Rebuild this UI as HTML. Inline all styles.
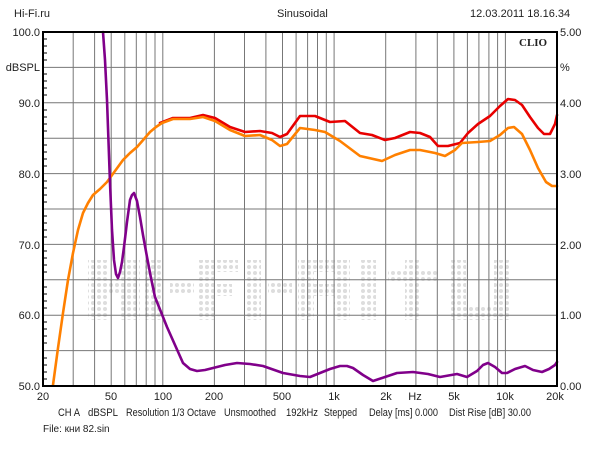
<!DOCTYPE html>
<html><head><meta charset="utf-8"><style>
body{margin:0;background:#fff;width:600px;height:450px;overflow:hidden}
svg text{font-family:"Liberation Sans",sans-serif;font-size:11px;fill:#222;white-space:pre}
</style></head><body>
<svg width="600" height="450" xmlns="http://www.w3.org/2000/svg">
<defs>
<pattern id="dots" width="6" height="6" patternUnits="userSpaceOnUse"><circle cx="3" cy="3" r="2" fill="#ddd"/></pattern>
</defs>
<g fill="url(#dots)">
<rect x="88" y="260" width="20" height="60"/><rect x="108" y="280" width="30" height="14"/><rect x="120" y="260" width="20" height="60"/>
<rect x="145" y="260" width="16" height="60"/><rect x="170" y="282" width="24" height="12"/>
<rect x="198" y="260" width="40" height="12"/><rect x="198" y="260" width="16" height="60"/><rect x="198" y="284" width="34" height="12"/>
<rect x="245" y="260" width="16" height="60"/><rect x="268" y="282" width="24" height="12"/>
<rect x="298" y="260" width="52" height="12"/><rect x="298" y="260" width="16" height="60"/><rect x="334" y="260" width="16" height="60"/><rect x="298" y="284" width="52" height="12"/>
<rect x="360" y="260" width="16" height="60"/><rect x="388" y="270" width="50" height="12"/><rect x="405" y="260" width="16" height="60"/>
<rect x="450" y="260" width="16" height="60"/><rect x="450" y="306" width="60" height="14"/><rect x="494" y="260" width="16" height="60"/>
</g>
<g stroke="#777" stroke-width="1">
<line x1="43" y1="67.4" x2="557" y2="67.4"/><line x1="43" y1="102.8" x2="557" y2="102.8"/><line x1="43" y1="138.2" x2="557" y2="138.2"/><line x1="43" y1="173.6" x2="557" y2="173.6"/><line x1="43" y1="209" x2="557" y2="209"/><line x1="43" y1="244.4" x2="557" y2="244.4"/><line x1="43" y1="279.8" x2="557" y2="279.8"/><line x1="43" y1="315.2" x2="557" y2="315.2"/><line x1="43" y1="350.6" x2="557" y2="350.6"/>
<line x1="73.2" y1="32" x2="73.2" y2="386"/><line x1="94.6" y1="32" x2="94.6" y2="386"/><line x1="111.2" y1="32" x2="111.2" y2="386"/><line x1="124.8" y1="32" x2="124.8" y2="386"/><line x1="136.3" y1="32" x2="136.3" y2="386"/><line x1="146.2" y1="32" x2="146.2" y2="386"/><line x1="155" y1="32" x2="155" y2="386"/><line x1="162.8" y1="32" x2="162.8" y2="386"/>
<line x1="214.4" y1="32" x2="214.4" y2="386"/><line x1="244.5" y1="32" x2="244.5" y2="386"/><line x1="265.9" y1="32" x2="265.9" y2="386"/><line x1="282.5" y1="32" x2="282.5" y2="386"/><line x1="296.1" y1="32" x2="296.1" y2="386"/><line x1="307.6" y1="32" x2="307.6" y2="386"/><line x1="317.5" y1="32" x2="317.5" y2="386"/><line x1="326.3" y1="32" x2="326.3" y2="386"/><line x1="334.1" y1="32" x2="334.1" y2="386"/>
<line x1="385.7" y1="32" x2="385.7" y2="386"/><line x1="415.9" y1="32" x2="415.9" y2="386"/><line x1="437.3" y1="32" x2="437.3" y2="386"/><line x1="453.9" y1="32" x2="453.9" y2="386"/><line x1="467.4" y1="32" x2="467.4" y2="386"/><line x1="478.9" y1="32" x2="478.9" y2="386"/><line x1="488.9" y1="32" x2="488.9" y2="386"/><line x1="497.6" y1="32" x2="497.6" y2="386"/><line x1="505.4" y1="32" x2="505.4" y2="386"/>
</g>
<g fill="none" stroke-width="2.6" stroke-linejoin="round" stroke-linecap="round">
<polyline stroke="#e80000" points="160,123 173,118 190,118 203,115 215,118 230,127 245,132 260,131 272,133 280,137 287,134 300,116 315,116 330,122 345,121 360,133 372,135 385,140 395,138 410,132 420,133 430,137 438,146 448,146 460,143 468,133 478,124 490,116 500,106 508,99 515,100 522,105 530,117 538,128 544,134 550,134 555,124 557,115"/>
<polyline stroke="#ff8000" points="53,385 58,348 63,313 68,280 73,253 78,230 83,213 88,203 93,195 100,189 107,182 115,171 123,160 130,153 137,147 144,139 150,132 156,127 162,123 173,119 190,119 203,117 215,121 230,130 245,136 260,135 272,140 280,146 287,144 300,128 315,130 325,132 340,141 360,156 382,161 395,155 410,150 420,150 435,153 445,156 455,150 462,143 478,142 490,141 500,135 508,128 514,127 522,134 530,150 538,168 546,182 552,186 557,186"/>
<polyline stroke="#80008a" points="103,32 105,60 107,100 110,183 112,230 114,260 116,274 118,278 120,272 122,262 124,247 127,222 130,200 132,195 134,193 137,201 140,217 143,235 147,257 151,278 155,297 161,312 167,327 175,345 183,363 190,369 197,371 205,370 213,368 225,365 237,363 250,364 263,366 283,373 300,376 310,377 320,373 330,369 340,366 347,366 353,368 363,375 373,381 385,377 397,373 413,372 428,374 440,377 457,374 467,377 477,371 483,365 488,363 495,367 502,373 507,373 515,369 525,366 533,370 542,372 549,369 555,365 557,362"/>
</g>
<g stroke="#000" stroke-width="1">
<line x1="44" y1="39" x2="47" y2="39"/><line x1="44" y1="46" x2="47" y2="46"/><line x1="44" y1="53" x2="47" y2="53"/><line x1="44" y1="60" x2="47" y2="60"/>
<line x1="44" y1="74" x2="47" y2="74"/><line x1="44" y1="81" x2="47" y2="81"/><line x1="44" y1="88" x2="47" y2="88"/><line x1="44" y1="95" x2="47" y2="95"/>
<line x1="44" y1="110" x2="47" y2="110"/><line x1="44" y1="117" x2="47" y2="117"/><line x1="44" y1="124" x2="47" y2="124"/><line x1="44" y1="131" x2="47" y2="131"/>
<line x1="44" y1="145" x2="47" y2="145"/><line x1="44" y1="152" x2="47" y2="152"/><line x1="44" y1="159" x2="47" y2="159"/><line x1="44" y1="166" x2="47" y2="166"/>
<line x1="44" y1="181" x2="47" y2="181"/><line x1="44" y1="188" x2="47" y2="188"/><line x1="44" y1="195" x2="47" y2="195"/><line x1="44" y1="202" x2="47" y2="202"/>
<line x1="44" y1="216" x2="47" y2="216"/><line x1="44" y1="223" x2="47" y2="223"/><line x1="44" y1="230" x2="47" y2="230"/><line x1="44" y1="237" x2="47" y2="237"/>
<line x1="44" y1="251" x2="47" y2="251"/><line x1="44" y1="258" x2="47" y2="258"/><line x1="44" y1="265" x2="47" y2="265"/><line x1="44" y1="272" x2="47" y2="272"/>
<line x1="44" y1="287" x2="47" y2="287"/><line x1="44" y1="294" x2="47" y2="294"/><line x1="44" y1="301" x2="47" y2="301"/><line x1="44" y1="308" x2="47" y2="308"/>
<line x1="44" y1="322" x2="47" y2="322"/><line x1="44" y1="329" x2="47" y2="329"/><line x1="44" y1="336" x2="47" y2="336"/><line x1="44" y1="343" x2="47" y2="343"/>
<line x1="44" y1="358" x2="47" y2="358"/><line x1="44" y1="365" x2="47" y2="365"/><line x1="44" y1="372" x2="47" y2="372"/><line x1="44" y1="379" x2="47" y2="379"/>
</g>
<rect x="43" y="32" width="514" height="354" fill="none" stroke="#000" stroke-width="2"/>
<text x="14" y="17">Hi-Fi.ru</text>
<text x="277" y="17">Sinusoidal</text>
<text x="470" y="17">12.03.2011 18.16.34</text>
<text x="519" y="46" style="font-family:'Liberation Serif',serif;font-weight:bold;font-size:11px">CLIO</text>
<g text-anchor="end">
<text x="40" y="36">100.0</text><text x="40" y="71">dBSPL</text><text x="40" y="107">90.0</text><text x="40" y="178">80.0</text><text x="40" y="249">70.0</text><text x="40" y="319">60.0</text><text x="40" y="390">50.0</text>
</g>
<text x="560" y="36">5.00</text><text x="560" y="71">%</text><text x="560" y="107">4.00</text><text x="560" y="178">3.00</text><text x="560" y="249">2.00</text><text x="560" y="319">1.00</text><text x="560" y="390">0.00</text>
<g text-anchor="middle">
<text x="43" y="400">20</text><text x="111" y="400">50</text><text x="163" y="400">100</text><text x="214" y="400">200</text><text x="282" y="400">500</text><text x="334" y="400">1k</text><text x="386" y="400">2k</text><text x="415" y="400">Hz</text><text x="454" y="400">5k</text><text x="505" y="400">10k</text><text x="555" y="400">20k</text>
</g>
<g>
<text x="58" y="416" textLength="22" lengthAdjust="spacingAndGlyphs">CH A</text>
<text x="88" y="416" textLength="30" lengthAdjust="spacingAndGlyphs">dBSPL</text>
<text x="126" y="416" textLength="90" lengthAdjust="spacingAndGlyphs">Resolution 1/3 Octave</text>
<text x="224" y="416" textLength="52" lengthAdjust="spacingAndGlyphs">Unsmoothed</text>
<text x="286" y="416" textLength="32" lengthAdjust="spacingAndGlyphs">192kHz</text>
<text x="324" y="416" textLength="33" lengthAdjust="spacingAndGlyphs">Stepped</text>
<text x="369" y="416" textLength="69" lengthAdjust="spacingAndGlyphs">Delay [ms] 0.000</text>
<text x="449" y="416" textLength="82" lengthAdjust="spacingAndGlyphs">Dist Rise [dB] 30.00</text>
</g>
<text x="43" y="432" style="font-size:10px">File: кни 82.sin</text>
</svg>
</body></html>
